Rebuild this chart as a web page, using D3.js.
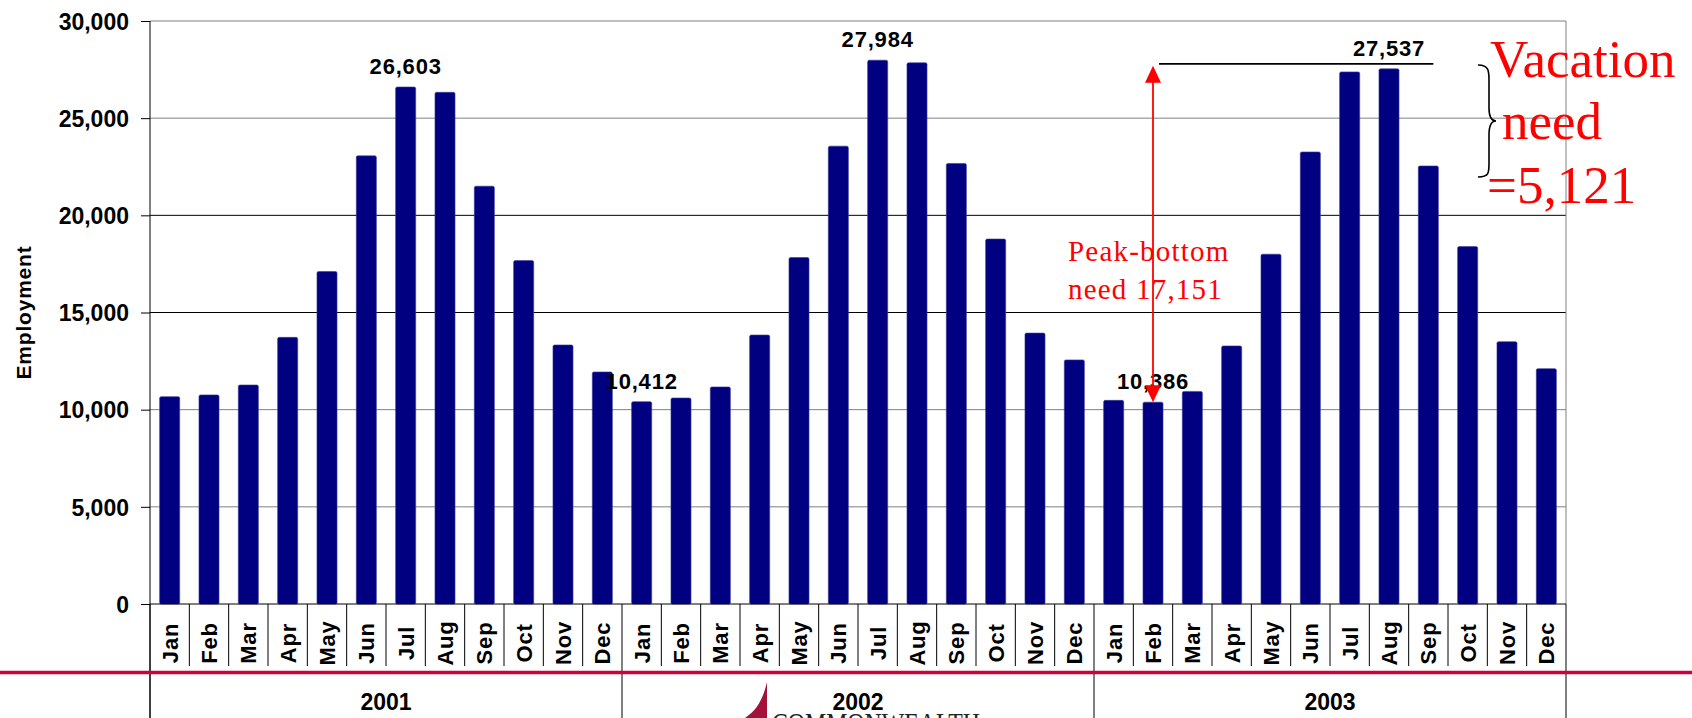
<!DOCTYPE html>
<html>
<head>
<meta charset="utf-8">
<script src="https://cdn.jsdelivr.net/npm/d3@7"></script>
<style>
  body { margin: 0; background: #fff; }
  svg { display: block; }
</style>
</head>
<body>
<script>
// Data
var years = ["2001", "2002", "2003"];
var months = ["Jan", "Feb", "Mar", "Apr", "May", "Jun", "Jul", "Aug", "Sep", "Oct", "Nov", "Dec"];
var emp2001 = [10670, 10760, 11270, 13720, 17110, 23060, 26603, 26330, 21500, 17670, 13330, 11940];
var emp2002 = [10412, 10600, 11170, 13840, 17830, 23560, 27984, 27850, 22670, 18780, 13940, 12560];
var emp2003 = [10480, 10386, 10940, 13280, 18000, 23260, 27380, 27537, 22540, 18390, 13500, 12110];
var yTicks = [0, 5000, 10000, 15000, 20000, 25000, 30000];
// bars that carry a value label: [year index, month index]
var labelled = [[0, 6], [1, 0], [1, 6], [2, 1], [2, 7]];

var data = [];
[emp2001, emp2002, emp2003].forEach(function(vals, yi) {
  vals.forEach(function(v, mi) {
    data.push({ i: yi * 12 + mi, year: years[yi], month: months[mi], value: v });
  });
});

// Setup
const W = 1692, H = 718;
const margin = { top: 21, left: 150, right: 126, bottom: 114 };
const width = W - margin.left - margin.right;   // 1416
const height = H - margin.top - margin.bottom;  // 583
const x0 = margin.left, y0 = margin.top + height;

const svg = d3.select("body").append("svg")
  .attr("width", W)
  .attr("height", H)
  .style("font-family", "'Liberation Sans', Arial, sans-serif");

const xscale = d3.scaleBand()
  .domain(d3.range(data.length))
  .range([x0, x0 + width])
  .paddingInner(0.49)
  .paddingOuter(0.245);

const yearScale = d3.scaleBand()
  .domain(years)
  .range([x0, x0 + width]);

const yscale = d3.scaleLinear()
  .domain([0, 30000])
  .range([y0, margin.top]);

const step = xscale.step();

// Gridlines (the picture shows 15k and 20k darker)
svg.append("g")
  .selectAll("line")
  .data(yTicks.filter(d => d > 0))
  .enter()
  .append("line")
  .attr("x1", x0).attr("x2", x0 + width)
  .attr("y1", d => yscale(d)).attr("y2", d => yscale(d))
  .attr("stroke", d => (d === 15000 || d === 20000) ? "#000" : "#808080")
  .attr("stroke-width", 1);

// right border
svg.append("line")
  .attr("x1", x0 + width).attr("x2", x0 + width)
  .attr("y1", margin.top).attr("y2", y0)
  .attr("stroke", "#808080");

// Bars
svg.append("g")
  .selectAll("rect")
  .data(data)
  .enter()
  .append("rect")
  .attr("x", d => xscale(d.i))
  .attr("y", d => yscale(d.value))
  .attr("width", xscale.bandwidth())
  .attr("height", d => y0 - yscale(d.value))
  .attr("rx", 1.5)
  .attr("fill", "#000080")
  .attr("stroke", "#3a3a9a")
  .attr("stroke-width", 0.6);

// Y axis
const yaxis = d3.axisLeft(yscale)
  .tickValues(yTicks)
  .tickSize(9)
  .tickPadding(12)
  .tickFormat(d3.format(","));

const yg = svg.append("g")
  .attr("transform", `translate(${x0},0)`)
  .call(yaxis);
yg.select(".domain").remove();
yg.selectAll("line").attr("stroke", "#000");
yg.selectAll("text")
  .style("font-size", "23px")
  .style("font-weight", "bold")
  .attr("fill", "#000")
  .attr("dy", "0.36em");

svg.append("line")
  .attr("x1", x0).attr("x2", x0)
  .attr("y1", margin.top).attr("y2", H)
  .attr("stroke", "#000");

svg.append("text")
  .attr("transform", `translate(31,${margin.top + height / 2}) rotate(-90)`)
  .attr("text-anchor", "middle")
  .style("font-size", "21px")
  .style("font-weight", "bold")
  .style("letter-spacing", "0.8px")
  .text("Employment");

// X axis line
svg.append("line")
  .attr("x1", x0).attr("x2", x0 + width)
  .attr("y1", y0).attr("y2", y0)
  .attr("stroke", "#000");

// Month separators
svg.append("g")
  .selectAll("line")
  .data(d3.range(data.length + 1))
  .enter()
  .append("line")
  .attr("x1", d => x0 + d * step)
  .attr("x2", d => x0 + d * step)
  .attr("y1", y0)
  .attr("y2", d => d % 12 === 0 ? H : 666)
  .attr("stroke", "#000");

// Month labels
svg.append("g")
  .selectAll("text")
  .data(data)
  .enter()
  .append("text")
  .attr("transform", d => `translate(${xscale(d.i) + xscale.bandwidth() / 2 + 8},643) rotate(-90)`)
  .attr("text-anchor", "middle")
  .style("font-size", "22px")
  .style("font-weight", "bold")
  .style("letter-spacing", "0.8px")
  .text(d => d.month);

// Red rule
svg.append("line")
  .attr("x1", 0).attr("x2", W)
  .attr("y1", 672.5).attr("y2", 672.5)
  .attr("stroke", "#d0003a")
  .attr("stroke-width", 3.5);

// Logo (cut off at the bottom)
svg.append("path")
  .attr("d", "M767,682 C763,699 757,710 745,718 L767,718 Z")
  .attr("fill", "#a3123a");
svg.append("text")
  .attr("x", 772)
  .attr("y", 733)
  .attr("textLength", 208)
  .attr("lengthAdjust", "spacingAndGlyphs")
  .style("font-family", "'Liberation Serif', 'Times New Roman', serif")
  .style("font-size", "30px")
  .attr("fill", "#222")
  .text("COMMONWEALTH");

// Year labels
svg.append("g")
  .selectAll("text")
  .data(years)
  .enter()
  .append("text")
  .attr("x", d => yearScale(d) + yearScale.bandwidth() / 2)
  .attr("y", 710)
  .attr("text-anchor", "middle")
  .style("font-size", "23px")
  .style("font-weight", "bold")
  .text(d => d);

// Value labels
svg.append("g")
  .selectAll("text")
  .data(labelled.map(p => data[p[0] * 12 + p[1]]))
  .enter()
  .append("text")
  .attr("x", d => xscale(d.i) + xscale.bandwidth() / 2)
  .attr("y", d => yscale(d.value) - 13)
  .attr("text-anchor", "middle")
  .style("font-size", "22px")
  .style("font-weight", "bold")
  .style("letter-spacing", "0.8px")
  .text(d => d3.format(",")(d.value));

// Annotations
var low = data[2 * 12 + 1], high = data[2 * 12 + 7], endBar = data[2 * 12 + 8];
var ax = xscale(low.i) + xscale.bandwidth() / 2;
var topY = yscale(high.value) - 3, botY = yscale(low.value);

svg.append("line")
  .attr("x1", ax + 6).attr("x2", xscale(endBar.i) + xscale.bandwidth() - 5)
  .attr("y1", topY - 2).attr("y2", topY - 2)
  .attr("stroke", "#000")
  .attr("stroke-width", 1.8);

svg.append("line")
  .attr("x1", ax).attr("x2", ax)
  .attr("y1", topY + 14).attr("y2", botY - 14)
  .attr("stroke", "#ff0000")
  .attr("stroke-width", 1.8);
svg.append("path")
  .attr("d", `M${ax},${topY} l-8,17 l16,0 Z M${ax},${botY} l-8,-17 l16,0 Z`)
  .attr("fill", "#ff0000");

var peakLines = ["Peak-bottom", "need 17,151"];
svg.append("g")
  .selectAll("text")
  .data(peakLines)
  .enter()
  .append("text")
  .attr("x", 1068)
  .attr("y", (d, i) => 261 + i * 38)
  .style("font-family", "'Liberation Serif', 'Times New Roman', serif")
  .style("font-size", "29px")
  .style("letter-spacing", "1.2px")
  .attr("fill", "#ff0000")
  .text(d => d);

// brace
svg.append("path")
  .attr("d", "M1478,65 C1490,65 1489,72 1489,84 L1489,108 C1489,117 1491,121 1496,121 C1491,121 1489,126 1489,135 L1489,160 C1489,172 1490,177 1478,177")
  .attr("fill", "none")
  .attr("stroke", "#000")
  .attr("stroke-width", 1.6);

var vacLines = [["Vacation", 1490, 77], ["need", 1502, 139], ["=5,121", 1487, 203]];
svg.append("g")
  .selectAll("text")
  .data(vacLines)
  .enter()
  .append("text")
  .attr("x", d => d[1])
  .attr("y", d => d[2])
  .style("font-family", "'Liberation Serif', 'Times New Roman', serif")
  .style("font-size", "53px")
  .attr("fill", "#ff0000")
  .text(d => d[0]);
</script>
</body>
</html>
